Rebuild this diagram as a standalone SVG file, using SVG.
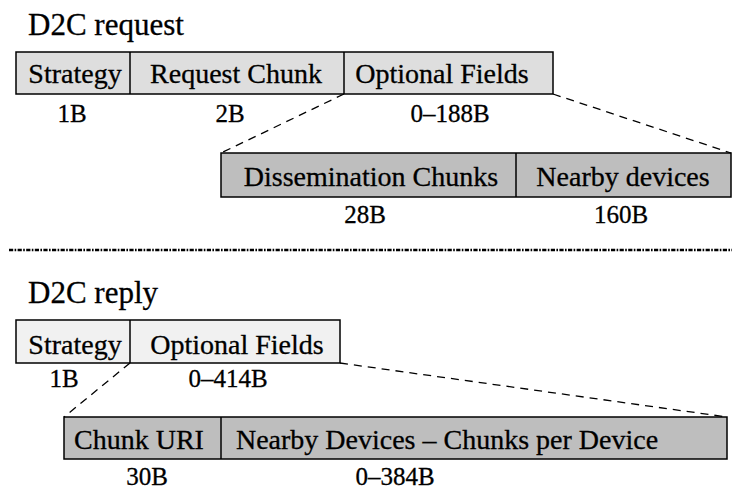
<svg xmlns="http://www.w3.org/2000/svg" width="732" height="489" viewBox="0 0 732 489">
  <style>
    .title { font-size: 31px; }
    .field { font-size: 28px; text-anchor: middle; }
    .size { font-size: 25px; text-anchor: middle; }
    .light { fill: #dedede; stroke: #000; stroke-width: 1.5; }
    .pale { fill: #f1f1f1; stroke: #000; stroke-width: 1.5; }
    .dark { fill: #bebebe; stroke: #000; stroke-width: 1.5; }
    .div { stroke: #000; stroke-width: 1.5; }
    .zoom { stroke: #000; stroke-width: 1.3; stroke-dasharray: 8 6; fill: none; }
    .sep { stroke: #000; stroke-width: 2.6; stroke-dasharray: 4.2 1.4 1.6 1.4; fill: none; }
  </style>

  <g font-family="Liberation Serif, Times New Roman, DejaVu Serif, serif" fill="#000" stroke-width="0.3">
  <!-- request frame -->
  <text class="title" x="28" y="35" stroke="#000">D2C request</text>

  <g id="req-header">
    <rect class="light" x="16" y="52" width="537" height="42"/>
    <line class="div" x1="130" y1="52" x2="130" y2="94"/>
    <line class="div" x1="344" y1="52" x2="344" y2="94"/>
    <g stroke="#000">
      <text class="field" x="75" y="83">Strategy</text>
      <text class="field" x="236" y="83">Request Chunk</text>
      <text class="field" x="442" y="83">Optional Fields</text>
      <text class="size" x="72" y="122">1B</text>
      <text class="size" x="230" y="122">2B</text>
      <text class="size" x="450" y="122">0–188B</text>
    </g>
  </g>

  <g id="req-optional">
    <rect class="dark" x="221" y="153" width="510" height="44"/>
    <line class="div" x1="516" y1="153" x2="516" y2="197"/>
    <g stroke="#000">
      <text class="field" x="371" y="186">Dissemination Chunks</text>
      <text class="field" x="623" y="186">Nearby devices</text>
      <text class="size" x="365" y="223">28B</text>
      <text class="size" x="621" y="223">160B</text>
    </g>
  </g>

  <!-- frame separator -->
  <line class="sep" x1="9" y1="250" x2="732" y2="250"/>

  <!-- reply frame -->
  <text class="title" x="28" y="303" stroke="#000">D2C reply</text>

  <g id="rep-header">
    <rect class="pale" x="16" y="320" width="324" height="43"/>
    <line class="div" x1="130" y1="320" x2="130" y2="363"/>
    <g stroke="#000">
      <text class="field" x="75" y="354">Strategy</text>
      <text class="field" x="237" y="354">Optional Fields</text>
      <text class="size" x="64" y="387">1B</text>
      <text class="size" x="228" y="387">0–414B</text>
    </g>
  </g>

  <g id="rep-optional">
    <rect class="dark" x="64" y="417" width="663" height="42"/>
    <line class="div" x1="221" y1="417" x2="221" y2="459"/>
    <g stroke="#000">
      <text class="field" x="139" y="449">Chunk URI</text>
      <text class="field" x="447" y="449">Nearby Devices – Chunks per Device</text>
      <text class="size" x="147" y="485">30B</text>
      <text class="size" x="395" y="485">0–384B</text>
    </g>
  </g>

  <!-- expansion guides -->
  <g id="connectors">
    <line class="zoom" x1="344" y1="94" x2="221" y2="153"/>
    <line class="zoom" x1="553" y1="94" x2="731" y2="153"/>
    <line class="zoom" x1="130" y1="363" x2="64" y2="417"/>
    <line class="zoom" x1="340" y1="363" x2="727" y2="417"/>
  </g>
  </g>
</svg>
